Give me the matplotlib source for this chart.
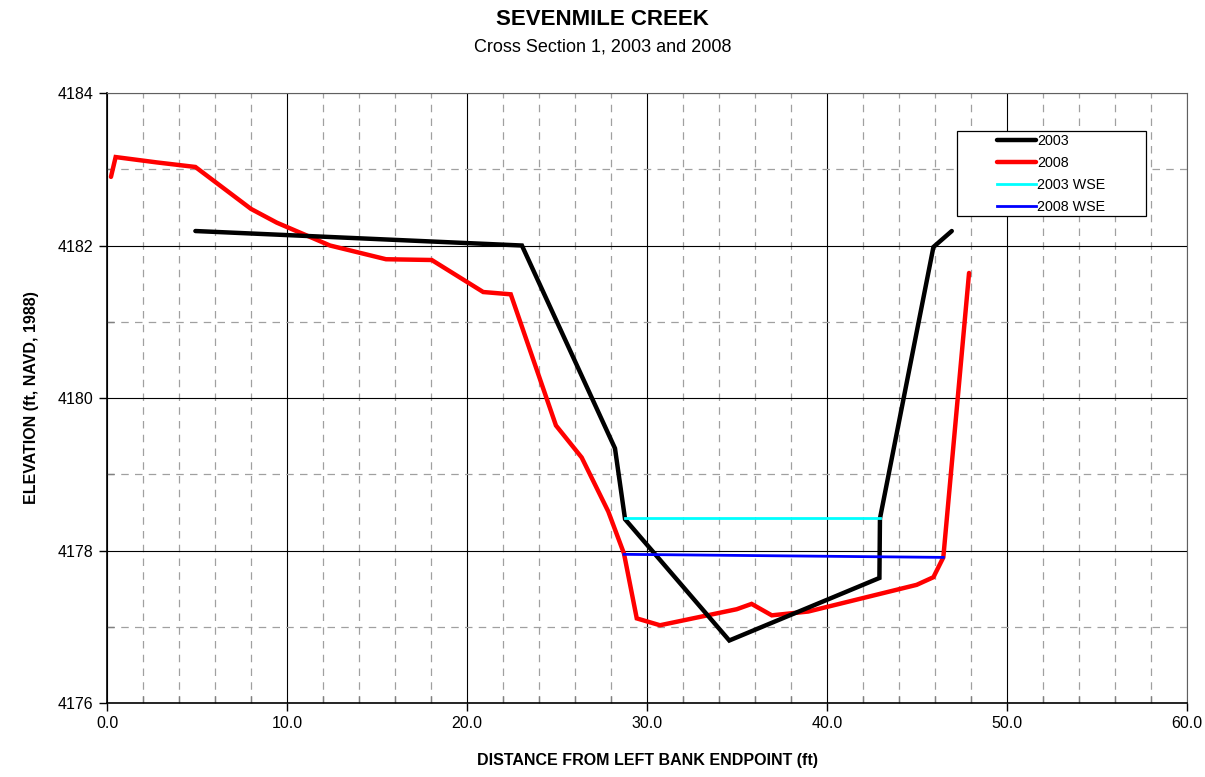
import matplotlib
matplotlib.use("Agg")
import matplotlib.pyplot as plt
from matplotlib.patches import Rectangle
from matplotlib.ticker import MultipleLocator, FormatStrFormatter

plt.rcParams['font.family'] = ['Liberation Sans', 'DejaVu Sans']

# Surveyed cross-section points (distance ft, elevation ft)
dist_2003 = [4.91, 23.05, 28.22, 28.78, 34.57, 42.91, 42.94, 45.91, 46.93]
elev_2003 = [4182.19, 4182.00, 4179.34, 4178.41, 4176.82, 4177.64, 4178.42, 4181.98, 4182.19]

dist_2008 = [0.22, 0.48, 2.76, 4.91, 8.00, 9.43, 12.39, 15.50, 18.04, 20.90, 22.43,
             24.94, 26.37, 27.85, 28.72, 29.43, 30.72, 34.98, 35.81, 36.93, 38.96,
             44.98, 45.91, 46.46, 47.89]
elev_2008 = [4182.90, 4183.16, 4183.09, 4183.03, 4182.48, 4182.30, 4182.00, 4181.82,
             4181.81, 4181.39, 4181.36, 4179.64, 4179.22, 4178.51, 4177.96, 4177.11,
             4177.02, 4177.23, 4177.30, 4177.15, 4177.20, 4177.55, 4177.65, 4177.91,
             4181.64]

# Water surface elevations
wse_2003_x = [28.78, 42.94]
wse_2003_y = [4178.42, 4178.42]
wse_2008_x = [28.72, 46.46]
wse_2008_y = [4177.95, 4177.91]

fig = plt.figure(figsize=(12.05, 7.77), dpi=100)
ax = fig.add_axes([0.0888, 0.0952, 0.8963, 0.7851])

ax.plot(dist_2003, elev_2003, color='black', lw=3.2, label='2003',
        solid_joinstyle='miter', solid_capstyle='round', zorder=4)
ax.plot(dist_2008, elev_2008, color='#ff0000', lw=3.2, label='2008',
        solid_joinstyle='miter', solid_capstyle='round', zorder=3)
ax.plot(wse_2003_x, wse_2003_y, color='#00ffff', lw=2.0, label='2003 WSE', zorder=5)
ax.plot(wse_2008_x, wse_2008_y, color='#0000ff', lw=2.0, label='2008 WSE', zorder=5)

ax.set_xlim(0, 60)
ax.set_ylim(4176, 4184)
ax.xaxis.set_major_locator(MultipleLocator(10))
ax.xaxis.set_minor_locator(MultipleLocator(2))
ax.yaxis.set_major_locator(MultipleLocator(2))
ax.yaxis.set_minor_locator(MultipleLocator(1))
ax.xaxis.set_major_formatter(FormatStrFormatter('%.1f'))
ax.yaxis.set_major_formatter(FormatStrFormatter('%d'))

ax.grid(which='major', color='black', lw=0.8, ls='-', zorder=1)
ax.grid(which='minor', color='#a0a0a0', lw=0.9, ls=(0, (6, 5)), zorder=1)
ax.set_axisbelow(True)

for side in ('top', 'right'):
    ax.spines[side].set_color('#606060')
    ax.spines[side].set_linewidth(0.8)
for side in ('left', 'bottom'):
    ax.spines[side].set_color('black')
    ax.spines[side].set_linewidth(1.2)

ax.tick_params(which='major', direction='out', length=6, width=1, labelsize=11.5, pad=4)
ax.tick_params(which='minor', direction='in', length=5, width=1, color='#808080')
ax.tick_params(axis='x', which='major', pad=3)

ax.set_xlabel('DISTANCE FROM LEFT BANK ENDPOINT (ft)', fontsize=11.5,
              fontweight='bold', labelpad=16)
ax.set_ylabel('ELEVATION (ft, NAVD, 1988)', fontsize=11.5,
              fontweight='bold', labelpad=13)

fig.text(0.5, 0.975, 'SEVENMILE CREEK', ha='center', va='center',
         fontsize=16, fontweight='bold')
fig.text(0.5, 0.939, 'Cross Section 1, 2003 and 2008', ha='center', va='center',
         fontsize=13)

# Legend: boxed frame drawn separately, entries placed inside it
ax.add_patch(Rectangle((0.787, 0.799), 0.175, 0.139, transform=ax.transAxes,
                       facecolor='white', edgecolor='black', lw=0.9, zorder=6))
leg = ax.legend(loc='upper left', bbox_to_anchor=(0.824, 0.932), fontsize=10.3,
                frameon=False, handlelength=2.7, handletextpad=0.12,
                labelspacing=0.55, borderpad=0, borderaxespad=0)
leg.set_zorder(7)

fig.savefig('out.png', dpi=100)
